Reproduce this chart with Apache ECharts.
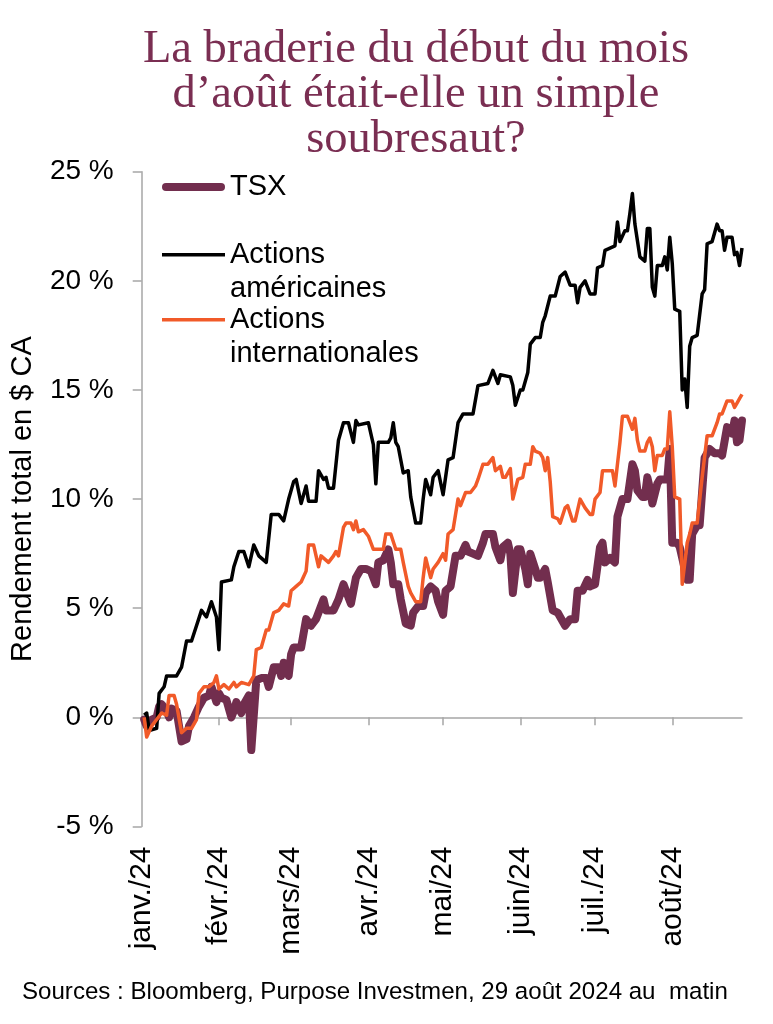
<!DOCTYPE html>
<html>
<head>
<meta charset="utf-8">
<script src="https://cdn.jsdelivr.net/npm/echarts@6/dist/echarts.min.js"></script>
<style>
html,body{margin:0;padding:0;background:#fff;}
#chart{width:773px;height:1024px;}
</style>
</head>
<body>
<div id="chart"></div>
<script>
// ---- Data (rendement total en $ CA, %) ----
const monthTicks = ['2024-01-01','2024-02-01','2024-03-01','2024-04-01','2024-05-01','2024-06-01','2024-07-01','2024-08-01'];
const monthLabels = ['janv./24','févr./24','mars/24','avr./24','mai/24','juin/24','juil./24','août/24'];
const axisStart = '2024-01-01';
const axisEnd = '2024-08-29';
const yTicks = [-5, 0, 5, 10, 15, 20, 25];

const seriesNames = ['TSX', 'Actions américaines', 'Actions internationales'];

const tsxDates = ['2024-01-02','2024-01-03','2024-01-05','2024-01-07','2024-01-08','2024-01-09','2024-01-11','2024-01-12','2024-01-13','2024-01-15','2024-01-17','2024-01-19','2024-01-20','2024-01-22','2024-01-24','2024-01-26','2024-01-28','2024-01-29','2024-01-31','2024-02-01','2024-02-02','2024-02-04','2024-02-06','2024-02-07','2024-02-08','2024-02-10','2024-02-11','2024-02-13','2024-02-14','2024-02-16','2024-02-18','2024-02-20','2024-02-21','2024-02-23','2024-02-25','2024-02-26','2024-02-27','2024-02-29','2024-03-01','2024-03-02','2024-03-05','2024-03-07','2024-03-09','2024-03-11','2024-03-14','2024-03-15','2024-03-18','2024-03-20','2024-03-22','2024-03-24','2024-03-25','2024-03-27','2024-03-29','2024-03-31','2024-04-02','2024-04-04','2024-04-05','2024-04-07','2024-04-09','2024-04-10','2024-04-11','2024-04-13','2024-04-14','2024-04-16','2024-04-18','2024-04-19','2024-04-21','2024-04-23','2024-04-24','2024-04-26','2024-04-28','2024-04-29','2024-05-01','2024-05-02','2024-05-04','2024-05-06','2024-05-08','2024-05-10','2024-05-11','2024-05-13','2024-05-15','2024-05-17','2024-05-18','2024-05-21','2024-05-22','2024-05-24','2024-05-25','2024-05-27','2024-05-28','2024-05-29','2024-05-31','2024-06-01','2024-06-03','2024-06-04','2024-06-05','2024-06-07','2024-06-08','2024-06-09','2024-06-11','2024-06-12','2024-06-14','2024-06-16','2024-06-17','2024-06-19','2024-06-21','2024-06-23','2024-06-24','2024-06-26','2024-06-28','2024-06-29','2024-07-01','2024-07-03','2024-07-04','2024-07-05','2024-07-07','2024-07-09','2024-07-10','2024-07-12','2024-07-14','2024-07-16','2024-07-17','2024-07-18','2024-07-20','2024-07-21','2024-07-22','2024-07-23','2024-07-24','2024-07-26','2024-07-27','2024-07-30','2024-07-31','2024-08-01','2024-08-03','2024-08-04','2024-08-07','2024-08-08','2024-08-09','2024-08-11','2024-08-12','2024-08-14','2024-08-16','2024-08-18','2024-08-20','2024-08-21','2024-08-23','2024-08-25','2024-08-26','2024-08-27','2024-08-28','2024-08-29'];
const tsxValues = [-0.1,-0.4,-0.1,0.0,0.5,0.6,0.3,0.0,0.4,0.3,-1.1,-1.0,-0.4,0.0,0.5,0.9,1.0,1.4,0.7,1.1,0.9,0.8,0.0,0.3,0.7,0.2,0.6,1.0,-1.5,1.7,1.8,1.8,1.4,2.3,2.3,1.9,2.5,1.9,2.9,3.2,3.2,4.5,4.2,4.5,5.4,4.9,4.9,5.4,6.1,5.5,5.2,6.4,6.8,6.8,6.7,6.1,7.1,7.2,7.7,7.1,6.1,6.1,5.4,4.3,4.2,4.8,5.1,5.1,5.7,6.0,5.8,5.3,4.7,5.8,6.0,7.4,7.4,7.9,7.6,7.5,7.4,8.0,8.4,8.4,7.8,7.2,7.8,8.0,7.5,5.7,7.7,7.7,6.8,6.1,7.5,6.8,6.4,6.4,6.8,6.2,4.9,4.8,4.6,4.2,4.5,4.5,5.8,5.8,6.3,6.0,6.1,7.8,8.0,7.1,7.3,7.1,9.2,10.0,10.0,11.6,11.3,10.4,10.1,10.1,11.0,10.5,9.8,10.7,10.9,10.9,12.3,8.0,8.0,7.8,6.3,6.3,8.4,8.8,8.8,11.9,12.3,12.1,12.1,12.0,13.3,13.0,13.6,12.6,12.7,13.6];

const usDates = ['2024-01-02','2024-01-03','2024-01-04','2024-01-07','2024-01-08','2024-01-10','2024-01-11','2024-01-15','2024-01-17','2024-01-19','2024-01-21','2024-01-23','2024-01-25','2024-01-27','2024-01-29','2024-01-31','2024-02-01','2024-02-02','2024-02-06','2024-02-07','2024-02-09','2024-02-11','2024-02-13','2024-02-15','2024-02-17','2024-02-20','2024-02-22','2024-02-25','2024-02-27','2024-02-29','2024-03-02','2024-03-03','2024-03-05','2024-03-07','2024-03-08','2024-03-11','2024-03-12','2024-03-14','2024-03-15','2024-03-16','2024-03-18','2024-03-20','2024-03-22','2024-03-24','2024-03-26','2024-03-27','2024-03-28','2024-04-01','2024-04-03','2024-04-04','2024-04-05','2024-04-09','2024-04-10','2024-04-11','2024-04-12','2024-04-13','2024-04-15','2024-04-17','2024-04-18','2024-04-20','2024-04-22','2024-04-23','2024-04-24','2024-04-26','2024-04-27','2024-04-29','2024-05-01','2024-05-03','2024-05-05','2024-05-07','2024-05-09','2024-05-13','2024-05-15','2024-05-19','2024-05-21','2024-05-23','2024-05-24','2024-05-28','2024-05-29','2024-05-30','2024-06-01','2024-06-02','2024-06-04','2024-06-05','2024-06-07','2024-06-09','2024-06-10','2024-06-11','2024-06-13','2024-06-15','2024-06-17','2024-06-19','2024-06-21','2024-06-23','2024-06-24','2024-06-25','2024-06-27','2024-06-29','2024-07-01','2024-07-02','2024-07-04','2024-07-05','2024-07-07','2024-07-09','2024-07-10','2024-07-11','2024-07-13','2024-07-14','2024-07-15','2024-07-16','2024-07-17','2024-07-19','2024-07-21','2024-07-22','2024-07-23','2024-07-24','2024-07-25','2024-07-26','2024-07-28','2024-07-29','2024-07-30','2024-07-31','2024-08-01','2024-08-02','2024-08-04','2024-08-05','2024-08-06','2024-08-07','2024-08-08','2024-08-09','2024-08-11','2024-08-13','2024-08-14','2024-08-15','2024-08-17','2024-08-19','2024-08-20','2024-08-21','2024-08-22','2024-08-23','2024-08-25','2024-08-26','2024-08-27','2024-08-28','2024-08-29'];
const usValues = [0.1,0.2,-0.6,-0.5,1.1,1.4,1.9,1.9,2.3,3.5,3.5,4.2,4.9,4.6,5.3,4.6,3.1,6.2,6.3,6.9,7.6,7.6,6.9,7.9,7.4,7.1,9.3,9.3,9.0,10.0,10.8,10.9,9.8,10.6,9.9,9.9,11.3,10.9,11.0,10.5,10.5,12.7,13.5,13.5,12.6,13.6,13.4,13.5,12.5,10.7,12.6,12.6,12.8,13.5,12.6,12.4,11.2,11.3,10.1,8.9,8.9,10.0,10.9,10.2,11.0,11.3,10.2,11.8,11.9,13.5,13.9,13.9,15.2,15.3,15.9,15.3,15.7,15.6,15.2,14.3,15.0,15.0,15.8,17.1,17.4,17.4,18.1,18.4,19.3,19.3,20.2,20.4,19.8,19.8,19.0,19.7,20.0,19.4,19.4,20.6,20.7,21.4,21.5,21.6,22.7,21.8,22.3,22.3,23.1,24.0,22.6,21.1,20.9,22.4,22.4,19.7,19.3,20.7,20.7,21.1,20.5,22.0,20.8,18.7,18.6,15.0,15.5,14.2,17.0,17.4,17.5,19.4,19.6,21.7,21.8,22.6,22.3,22.3,21.4,22.0,22.0,21.2,21.3,20.7,21.5];

const intlDates = ['2024-01-02','2024-01-03','2024-01-05','2024-01-07','2024-01-09','2024-01-11','2024-01-12','2024-01-14','2024-01-15','2024-01-17','2024-01-19','2024-01-21','2024-01-23','2024-01-24','2024-01-26','2024-01-28','2024-01-30','2024-01-31','2024-02-01','2024-02-03','2024-02-05','2024-02-07','2024-02-08','2024-02-10','2024-02-13','2024-02-15','2024-02-16','2024-02-18','2024-02-20','2024-02-21','2024-02-23','2024-02-25','2024-02-27','2024-02-29','2024-03-01','2024-03-03','2024-03-05','2024-03-07','2024-03-08','2024-03-10','2024-03-12','2024-03-13','2024-03-16','2024-03-18','2024-03-19','2024-03-20','2024-03-22','2024-03-23','2024-03-25','2024-03-26','2024-03-27','2024-03-28','2024-03-30','2024-04-01','2024-04-03','2024-04-05','2024-04-07','2024-04-08','2024-04-10','2024-04-12','2024-04-14','2024-04-15','2024-04-17','2024-04-18','2024-04-20','2024-04-22','2024-04-23','2024-04-24','2024-04-26','2024-04-27','2024-04-29','2024-05-01','2024-05-02','2024-05-03','2024-05-05','2024-05-07','2024-05-08','2024-05-10','2024-05-12','2024-05-14','2024-05-15','2024-05-17','2024-05-19','2024-05-21','2024-05-22','2024-05-24','2024-05-25','2024-05-26','2024-05-28','2024-05-29','2024-05-31','2024-06-02','2024-06-03','2024-06-05','2024-06-06','2024-06-07','2024-06-09','2024-06-10','2024-06-11','2024-06-12','2024-06-13','2024-06-14','2024-06-16','2024-06-17','2024-06-19','2024-06-20','2024-06-22','2024-06-23','2024-06-25','2024-06-27','2024-06-29','2024-06-30','2024-07-01','2024-07-03','2024-07-04','2024-07-08','2024-07-09','2024-07-11','2024-07-12','2024-07-14','2024-07-16','2024-07-17','2024-07-18','2024-07-19','2024-07-21','2024-07-22','2024-07-23','2024-07-24','2024-07-25','2024-07-26','2024-07-28','2024-07-29','2024-07-30','2024-07-31','2024-08-01','2024-08-02','2024-08-04','2024-08-05','2024-08-07','2024-08-08','2024-08-09','2024-08-11','2024-08-13','2024-08-15','2024-08-17','2024-08-19','2024-08-20','2024-08-21','2024-08-23','2024-08-25','2024-08-26','2024-08-27','2024-08-28','2024-08-29'];
const intlValues = [0.0,-0.9,-0.4,-0.1,0.2,0.1,1.0,1.0,0.6,-0.7,-0.5,-0.5,-0.1,1.1,1.4,1.4,1.6,1.9,1.3,1.5,1.3,1.6,1.4,1.6,1.5,1.9,3.1,3.2,4.0,4.0,4.8,4.9,5.2,5.1,5.8,6.0,6.2,6.7,7.9,7.9,6.9,7.4,7.1,7.4,7.6,7.4,8.7,8.9,8.9,8.6,9.0,8.5,8.6,8.3,7.7,7.7,7.7,8.4,8.4,7.7,7.7,7.1,6.0,5.7,5.3,5.3,6.4,7.3,6.4,6.8,7.1,7.5,7.2,8.4,8.6,10.0,9.7,10.3,10.3,10.6,10.9,11.6,11.6,11.9,11.3,11.5,11.0,11.0,11.4,10.0,10.9,11.0,11.6,11.6,12.4,12.2,12.1,11.9,11.3,11.9,10.8,9.2,9.1,8.9,9.6,9.7,9.0,9.0,10.0,9.6,9.3,9.3,10.0,10.3,11.3,11.3,10.6,12.6,13.8,13.8,13.2,13.7,12.7,12.2,12.2,12.6,12.8,12.4,11.3,12.0,12.0,12.3,12.3,14.0,12.4,10.1,10.0,6.1,8.0,8.4,8.9,8.9,11.0,12.9,12.9,13.5,13.9,13.9,14.5,14.5,14.2,14.4,14.6,14.8];

// ---- helpers ----
function toTime(s) { const p = s.split('-'); return new Date(+p[0], +p[1] - 1, +p[2]).getTime(); }
function pairs(dates, vals) { return dates.map((d, i) => [toTime(d), vals[i]]); }
const tickTimes = monthTicks.map(toTime);
function monthLabel(v) {
  let best = 0, bestDiff = Infinity;
  tickTimes.forEach((t, i) => { const df = Math.abs(t - v); if (df < bestDiff) { bestDiff = df; best = i; } });
  return bestDiff < 86400000 ? monthLabels[best] : '';
}

const SANS = 'Liberation Sans, Arial, sans-serif';
const AXIS_GRAY = '#A6A6A6';
const TSX_COLOR = '#722E4E';
const US_COLOR = '#000000';
const INTL_COLOR = '#F15A29';
// legend icon: bar at the top of a taller (invisible) box so it lines up with the first text line
const TOP_BAR_ICON = 'path://M0,0H63V3.5H0Z M0,37L0.01,37Z';

const chart = echarts.init(document.getElementById('chart'), null, {renderer: 'canvas'});
chart.setOption({
  animation: false,
  backgroundColor: '#ffffff',
  title: [
    {
      text: 'La braderie du début du mois\nd’août était-elle un simple\nsoubresaut?',
      left: 416,
      textAlign: 'center',
      top: 27,
      padding: 0,
      textStyle: {fontFamily: 'Liberation Serif, serif', fontSize: 46.5, fontWeight: 'normal', color: '#7A2E52', lineHeight: 45}
    },
    {
      text: 'Sources : Bloomberg, Purpose Investmen, 29 août 2024 au  matin',
      left: 22,
      top: 978,
      padding: 0,
      textStyle: {fontFamily: SANS, fontSize: 24.1, fontWeight: 'normal', color: '#000', lineHeight: 28}
    }
  ],
  legend: [
    {
      data: [seriesNames[0]], left: 162, top: 170, padding: 0, selectedMode: false,
      itemWidth: 63, itemHeight: 8,
      icon: 'path://M4,0H59A4,4 0 0 1 59,8H4A4,4 0 0 1 4,0Z',
      itemStyle: {borderWidth: 0},
      textStyle: {fontFamily: SANS, fontSize: 29, color: '#000', lineHeight: 34}
    },
    {
      data: [seriesNames[1]], left: 162, top: 237.5, padding: 0, selectedMode: false,
      itemWidth: 63, itemHeight: 37, icon: TOP_BAR_ICON,
      itemStyle: {borderWidth: 0},
      formatter: () => 'Actions\naméricaines',
      textStyle: {fontFamily: SANS, fontSize: 29, color: '#000', lineHeight: 34}
    },
    {
      data: [seriesNames[2]], left: 162, top: 302.5, padding: 0, selectedMode: false,
      itemWidth: 63, itemHeight: 37, icon: TOP_BAR_ICON,
      itemStyle: {borderWidth: 0},
      formatter: () => 'Actions\ninternationales',
      textStyle: {fontFamily: SANS, fontSize: 29, color: '#000', lineHeight: 34}
    }
  ],
  grid: {left: 141.7, right: 31, top: 171.7, bottom: 197.5, containLabel: false},
  xAxis: [
    {
      type: 'value',
      min: toTime(axisStart), max: toTime(axisEnd),
      position: 'bottom',
      axisLine: {onZero: true, lineStyle: {color: AXIS_GRAY, width: 1.5}},
      axisTick: {show: true, length: 8, lineStyle: {color: AXIS_GRAY, width: 1.5}, customValues: tickTimes},
      axisLabel: {show: false, customValues: tickTimes},
      splitLine: {show: false}
    },
    {
      type: 'value',
      min: toTime(axisStart), max: toTime(axisEnd),
      position: 'bottom',
      axisLine: {show: false, onZero: false},
      axisTick: {show: false, customValues: tickTimes},
      axisLabel: {
        show: true, rotate: 90, margin: 20, customValues: tickTimes,
        formatter: monthLabel,
        fontFamily: SANS, fontSize: 30, color: '#000'
      },
      splitLine: {show: false}
    }
  ],
  yAxis: {
    type: 'value',
    min: yTicks[0], max: yTicks[yTicks.length - 1], interval: 5,
    name: 'Rendement total en $ CA',
    nameLocation: 'middle',
    nameGap: 104,
    nameTextStyle: {fontFamily: SANS, fontSize: 29, color: '#000'},
    axisLine: {show: true, lineStyle: {color: AXIS_GRAY, width: 1.5}},
    axisTick: {show: true, length: 9, lineStyle: {color: AXIS_GRAY, width: 1.5}},
    axisLabel: {formatter: '{value} %', margin: 28, fontFamily: SANS, fontSize: 28, color: '#000'},
    splitLine: {show: false}
  },
  series: [
    {
      name: seriesNames[0], type: 'line', xAxisIndex: 0, symbol: 'none',
      data: pairs(tsxDates, tsxValues),
      color: TSX_COLOR,
      lineStyle: {color: TSX_COLOR, width: 8, cap: 'round', join: 'round'}
    },
    {
      name: seriesNames[1], type: 'line', xAxisIndex: 0, symbol: 'none',
      data: pairs(usDates, usValues),
      color: US_COLOR,
      lineStyle: {color: US_COLOR, width: 3.5, join: 'round'}
    },
    {
      name: seriesNames[2], type: 'line', xAxisIndex: 0, symbol: 'none',
      data: pairs(intlDates, intlValues),
      color: INTL_COLOR,
      lineStyle: {color: INTL_COLOR, width: 3.5, join: 'round'}
    }
  ]
});
</script>
</body>
</html>
